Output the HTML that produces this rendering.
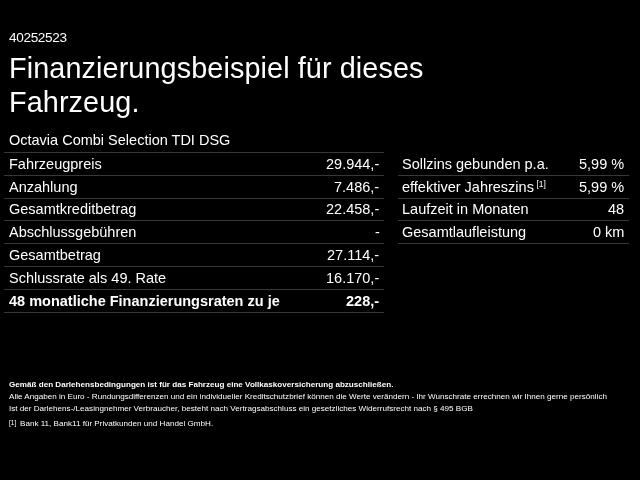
<!DOCTYPE html>
<html><head><meta charset="utf-8"><style>
html,body{margin:0;padding:0;background:#000;width:640px;height:480px;overflow:hidden}
#w{position:absolute;left:0;top:0;width:640px;height:480px}
body{position:relative;font-family:"Liberation Sans",sans-serif;color:#fff}
.t{position:absolute;white-space:nowrap;line-height:normal;will-change:transform}
.l{position:absolute;height:1px}
sup{font-size:8.5px;vertical-align:0;position:relative;top:-5px;margin-left:-1.5px}
.fn{font-size:6.5px;position:relative;top:-1px;margin-right:1.5px}
</style></head><body><div id="w">
<div class="t" style="left:8.50px;top:29.99px;font-size:13.6px;font-weight:400;letter-spacing:-0.35px">40252523</div>
<div class="t" style="left:8.80px;top:52.34px;font-size:28.8px;font-weight:400;letter-spacing:0.1px">Finanzierungsbeispiel für dieses</div>
<div class="t" style="left:8.80px;top:85.94px;font-size:28.8px;font-weight:400;letter-spacing:0.1px">Fahrzeug.</div>
<div class="t" style="left:8.50px;top:132.48px;font-size:14.5px;font-weight:400;">Octavia Combi Selection TDI DSG</div>
<div class="l" style="left:4px;width:380.00px;top:152.00px;background:#383838"></div>
<div class="t" style="left:8.50px;top:155.68px;font-size:14.5px;font-weight:400;">Fahrzeugpreis</div>
<div class="t" style="right:260.50px;text-align:right;top:155.68px;font-size:14.5px;font-weight:400;">29.944,-</div>
<div class="l" style="left:4px;width:380.00px;top:175.00px;background:#383838"></div>
<div class="t" style="left:8.50px;top:178.68px;font-size:14.5px;font-weight:400;">Anzahlung</div>
<div class="t" style="right:260.50px;text-align:right;top:178.68px;font-size:14.5px;font-weight:400;">7.486,-</div>
<div class="l" style="left:4px;width:380.00px;top:198.00px;background:#383838"></div>
<div class="t" style="left:8.50px;top:200.68px;font-size:14.5px;font-weight:400;">Gesamtkreditbetrag</div>
<div class="t" style="right:260.50px;text-align:right;top:200.68px;font-size:14.5px;font-weight:400;">22.458,-</div>
<div class="l" style="left:4px;width:380.00px;top:220.00px;background:#383838"></div>
<div class="t" style="left:8.50px;top:223.68px;font-size:14.5px;font-weight:400;">Abschlussgebühren</div>
<div class="t" style="right:260.50px;text-align:right;top:223.68px;font-size:14.5px;font-weight:400;">-</div>
<div class="l" style="left:4px;width:380.00px;top:243.00px;background:#383838"></div>
<div class="t" style="left:8.50px;top:246.68px;font-size:14.5px;font-weight:400;">Gesamtbetrag</div>
<div class="t" style="right:260.50px;text-align:right;top:246.68px;font-size:14.5px;font-weight:400;">27.114,-</div>
<div class="l" style="left:4px;width:380.00px;top:266.00px;background:#383838"></div>
<div class="t" style="left:8.50px;top:269.68px;font-size:14.5px;font-weight:400;">Schlussrate als 49. Rate</div>
<div class="t" style="right:260.50px;text-align:right;top:269.68px;font-size:14.5px;font-weight:400;">16.170,-</div>
<div class="l" style="left:4px;width:380.00px;top:289.00px;background:#383838"></div>
<div class="t" style="left:8.50px;top:292.68px;font-size:14.5px;font-weight:700;">48 monatliche Finanzierungsraten zu je</div>
<div class="t" style="right:260.50px;text-align:right;top:292.68px;font-size:14.5px;font-weight:700;">228,-</div>
<div class="l" style="left:4px;width:380.00px;top:312.00px;background:#383838"></div>
<div class="t" style="left:401.50px;top:155.68px;font-size:14.5px;font-weight:400;">Sollzins gebunden p.a.</div>
<div class="t" style="right:16.00px;text-align:right;top:155.68px;font-size:14.5px;font-weight:400;">5,99 %</div>
<div class="l" style="left:397.5px;width:231.50px;top:175.00px;background:#383838"></div>
<div class="t" style="left:401.50px;top:178.68px;font-size:14.5px;font-weight:400;">effektiver Jahreszins <sup>[1]</sup></div>
<div class="t" style="right:16.00px;text-align:right;top:178.68px;font-size:14.5px;font-weight:400;">5,99 %</div>
<div class="l" style="left:397.5px;width:231.50px;top:198.00px;background:#383838"></div>
<div class="t" style="left:401.50px;top:200.68px;font-size:14.5px;font-weight:400;">Laufzeit in Monaten</div>
<div class="t" style="right:16.00px;text-align:right;top:200.68px;font-size:14.5px;font-weight:400;">48</div>
<div class="l" style="left:397.5px;width:231.50px;top:220.00px;background:#383838"></div>
<div class="t" style="left:401.50px;top:223.68px;font-size:14.5px;font-weight:400;">Gesamtlaufleistung</div>
<div class="t" style="right:16.00px;text-align:right;top:223.68px;font-size:14.5px;font-weight:400;">0 km</div>
<div class="l" style="left:397.5px;width:231.50px;top:243.00px;background:#383838"></div>
<div class="t" style="left:8.50px;top:379.57px;font-size:8.1px;font-weight:700;">Gemäß den Darlehensbedingungen ist für das Fahrzeug eine Vollkaskoversicherung abzuschließen.</div>
<div class="t" style="left:8.50px;top:392.27px;font-size:8.1px;font-weight:400;">Alle Angaben in Euro - Rundungsdifferenzen und ein individueller Kreditschutzbrief können die Werte verändern - Ihr Wunschrate errechnen wir Ihnen gerne persönlich</div>
<div class="t" style="left:8.50px;top:403.92px;font-size:8.1px;font-weight:400;">Ist der Darlehens-/Leasingnehmer Verbraucher, besteht nach Vertragsabschluss ein gesetzliches Widerrufsrecht nach § 495 BGB</div>
<div class="t" style="left:8.50px;top:419.17px;font-size:8.1px;font-weight:400;"><span class="fn">[1]</span> Bank 11, Bank11 für Privatkunden und Handel GmbH.</div>
</div></body></html>
